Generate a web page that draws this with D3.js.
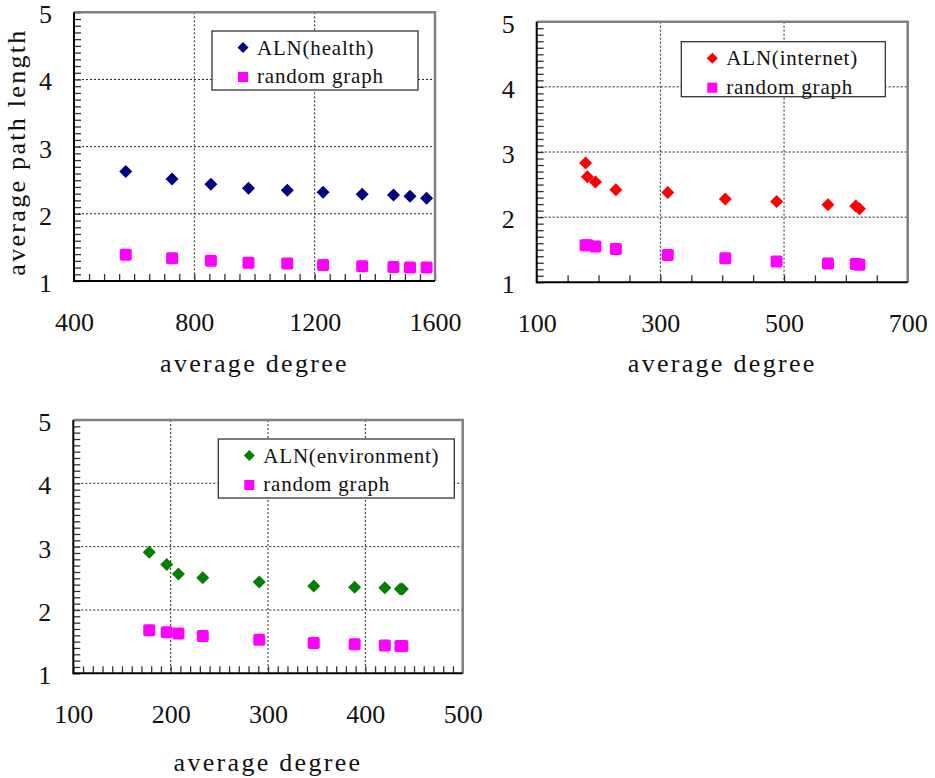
<!DOCTYPE html>
<html>
<head>
<meta charset="utf-8">
<script src="https://cdn.jsdelivr.net/npm/d3@7"></script>
<style>
  body { margin:0; background:#fff; }
  svg text { font-family:"Liberation Serif", "Times New Roman", serif; fill:#111; }
  .tick text { font-size:26px; }
  .title { font-size:26px; letter-spacing:2.3px; }
  .legend text { font-size:21px; letter-spacing:0.8px; }
</style>
</head>
<body>
<svg id="chart" width="935" height="778"></svg>
<script>
// values
var yTicks = [1, 2, 3, 4, 5];

var healthDegree = [572, 726, 855, 980, 1109, 1228, 1358, 1462, 1517, 1572];
var healthALN    = [2.63, 2.52, 2.44, 2.38, 2.35, 2.32, 2.29, 2.28, 2.26, 2.23];
var healthRandom = [1.39, 1.34, 1.30, 1.27, 1.26, 1.24, 1.22, 1.21, 1.20, 1.20];
var healthXTicks = [400, 800, 1200, 1600];

var internetDegree = [179, 182, 195, 228, 312, 405, 488, 571, 616, 622];
var internetALN    = [2.83, 2.62, 2.54, 2.42, 2.38, 2.28, 2.24, 2.19, 2.17, 2.13];
var internetRandom = [1.57, 1.57, 1.55, 1.51, 1.42, 1.37, 1.32, 1.29, 1.28, 1.27];
var internetXTicks = [100, 300, 500, 700];

var envDegree = [178, 196, 208, 233, 291, 347, 389, 420, 436, 438];
var envALN    = [2.91, 2.72, 2.57, 2.51, 2.44, 2.38, 2.36, 2.35, 2.33, 2.33];
var envRandom = [1.68, 1.65, 1.63, 1.59, 1.53, 1.48, 1.46, 1.44, 1.43, 1.43];
var envXTicks = [100, 200, 300, 400, 500];

var panels = [
    {degree:healthDegree, aln:healthALN, rnd:healthRandom, xTicks:healthXTicks, minor:50,
     color:"#000080", name:"ALN(health)",
     box:{left:74, top:12.3, right:435, bottom:281},
     legend:{x:212, y:31, w:206, h:59}, titleGap:91, yTitle:true},
    {degree:internetDegree, aln:internetALN, rnd:internetRandom, xTicks:internetXTicks, minor:50,
     color:"#ff0000", name:"ALN(internet)",
     box:{left:536.7, top:21.7, right:907.7, bottom:282.3},
     legend:{x:681.3, y:41.7, w:204, h:55}, titleGap:90, yTitle:false},
    {degree:envDegree, aln:envALN, rnd:envRandom, xTicks:envXTicks, minor:10,
     color:"#008000", name:"ALN(environment)",
     box:{left:73.3, top:420, right:462.7, bottom:673.3},
     legend:{x:218.3, y:439, w:236, h:59}, titleGap:98, yTitle:false}
];

var svg = d3.select("#chart");

var diamondPath = function(r)
{
    return "M0," + (-r) + "L" + r + ",0L0," + r + "L" + (-r) + ",0Z";
}

var drawPanel = function(p)
{
    var b = p.box;
    var w = b.right - b.left;
    var h = b.bottom - b.top;

    var xScale = d3.scaleLinear()
        .domain([p.xTicks[0], p.xTicks[p.xTicks.length - 1]])
        .range([0, w]);
    var yScale = d3.scaleLinear()
        .domain([1, 5])
        .range([h, 0]);

    var g = svg.append("g")
        .attr("transform", "translate(" + b.left + "," + b.top + ")");

    // dotted grid
    g.append("g").selectAll("line")
        .data(yTicks.slice(1, -1))
        .enter().append("line")
        .attr("x1", 0).attr("x2", w)
        .attr("y1", function(d){ return yScale(d); })
        .attr("y2", function(d){ return yScale(d); })
        .attr("stroke", "#222").attr("stroke-width", 1)
        .attr("stroke-dasharray", "2,2");
    g.append("g").selectAll("line")
        .data(p.xTicks.slice(1, -1))
        .enter().append("line")
        .attr("y1", 0).attr("y2", h)
        .attr("x1", function(d){ return xScale(d); })
        .attr("x2", function(d){ return xScale(d); })
        .attr("stroke", "#222").attr("stroke-width", 1)
        .attr("stroke-dasharray", "2,2");

    // minor ticks pointing inside
    var yMinor = d3.range(10, 51).map(function(d){ return d / 10; });
    var xMinor = d3.range(p.xTicks[0], p.xTicks[p.xTicks.length - 1] + 1, p.minor);

    var yTickAxis = d3.axisRight(yScale).tickValues(yMinor).tickSize(7).tickFormat("");
    var yt = g.append("g").call(yTickAxis);
    yt.select(".domain").remove();
    yt.selectAll("line").attr("stroke", "#333").attr("stroke-width", 1.3);

    var xTickAxis = d3.axisTop(xScale).tickValues(xMinor).tickSize(7).tickFormat("");
    var xt = g.append("g").attr("transform", "translate(0," + h + ")").call(xTickAxis);
    xt.select(".domain").remove();
    xt.selectAll("line").attr("stroke", "#333").attr("stroke-width", 1.3);

    // frame
    g.append("path")
        .attr("d", "M0,0H" + w + "V" + h)
        .attr("fill", "none").attr("stroke", "#808080").attr("stroke-width", 2.5);
    g.append("path")
        .attr("d", "M0,0V" + h + "H" + w)
        .attr("fill", "none").attr("stroke", "#000").attr("stroke-width", 2);

    // tick labels
    var yLab = g.append("g").call(d3.axisLeft(yScale).tickValues(yTicks)
        .tickFormat(d3.format("d")).tickSize(0).tickPadding(22));
    yLab.select(".domain").remove();
    yLab.selectAll("text").attr("dy", "0.4em");

    var xLab = g.append("g").attr("transform", "translate(0," + h + ")")
        .call(d3.axisBottom(xScale).tickValues(p.xTicks)
        .tickFormat(d3.format("d")).tickSize(0).tickPadding(31.5));
    xLab.select(".domain").remove();
    xLab.selectAll("text").attr("dy", "0.71em");

    // axis titles
    g.append("text").classed("title", true)
        .attr("text-anchor", "middle")
        .attr("x", w / 2)
        .attr("y", h + p.titleGap)
        .text("average degree");
    if (p.yTitle) {
        svg.append("text").classed("title", true)
            .attr("text-anchor", "middle")
            .attr("transform", "translate(25,152) rotate(-90)")
            .text("average path length");
    }

    // legend
    var lg = svg.append("g").classed("legend", true)
        .attr("transform", "translate(" + p.legend.x + "," + p.legend.y + ")");
    lg.append("rect")
        .attr("width", p.legend.w).attr("height", p.legend.h)
        .attr("fill", "#fff").attr("stroke", "#333").attr("stroke-width", 1.3);
    lg.append("path").attr("d", diamondPath(5.5))
        .attr("transform", "translate(31,16.5)").attr("fill", p.color);
    lg.append("rect").attr("x", 26).attr("y", 41).attr("width", 10).attr("height", 10)
        .attr("fill", "#ff00ff");
    lg.append("text").attr("x", 45).attr("y", 23.5).text(p.name);
    lg.append("text").attr("x", 45).attr("y", 52).text("random graph");

    // points
    g.append("g").selectAll("path")
        .data(p.degree)
        .enter().append("path")
        .attr("d", diamondPath(6.5))
        .attr("transform", function(d, i){ return "translate(" + xScale(d) + "," + yScale(p.aln[i]) + ")"; })
        .attr("fill", p.color);
    g.append("g").selectAll("rect")
        .data(p.degree)
        .enter().append("rect")
        .attr("x", function(d){ return xScale(d) - 6; })
        .attr("y", function(d, i){ return yScale(p.rnd[i]) - 6; })
        .attr("width", 12).attr("height", 12)
        .attr("rx", 2)
        .attr("fill", "#ff00ff");
}

panels.forEach(drawPanel);
</script>
</body>
</html>
